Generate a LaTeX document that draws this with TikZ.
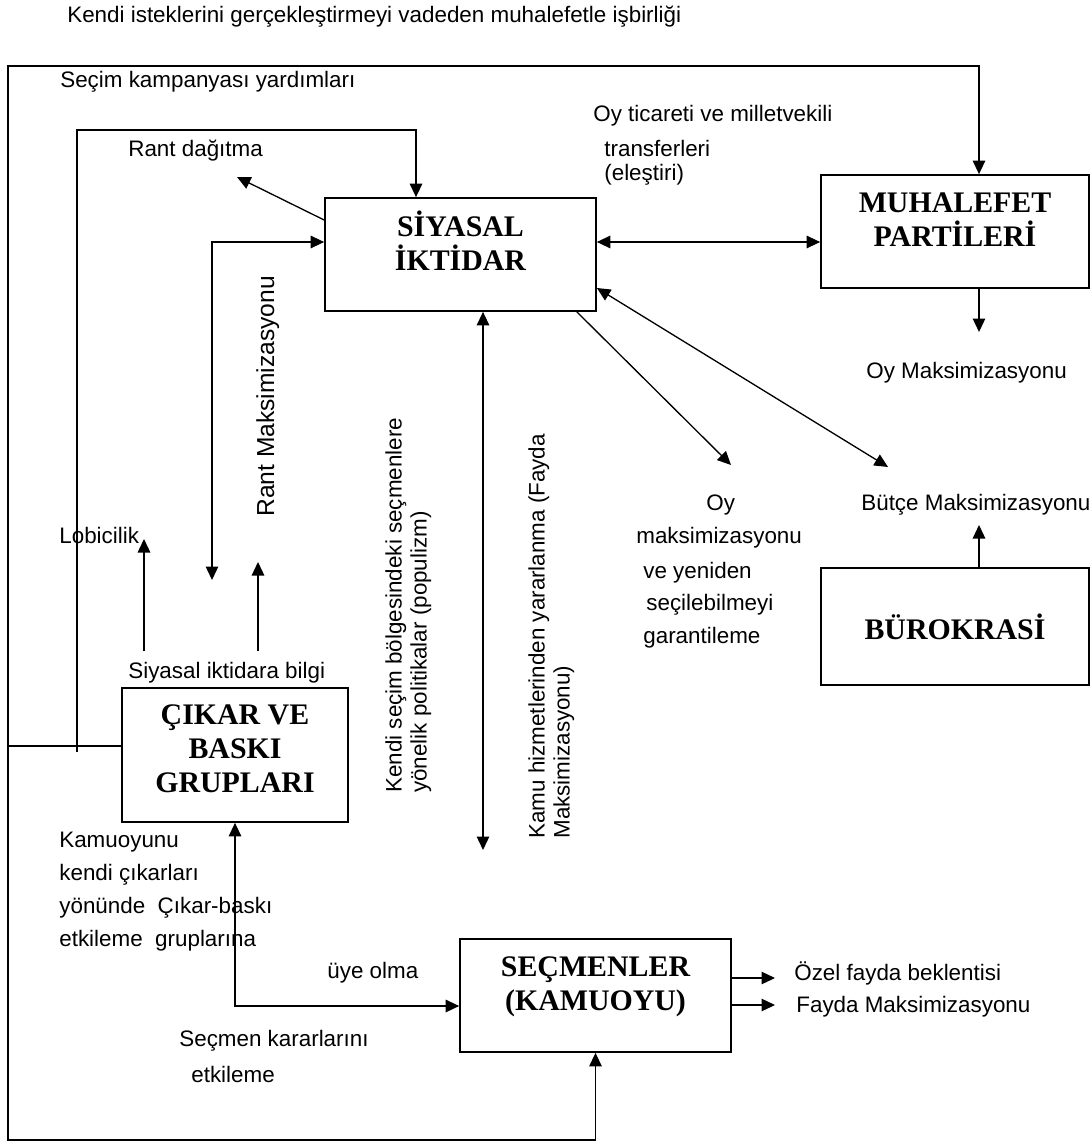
\documentclass[tikz,border=0pt]{standalone}
\usepackage{fontspec}
\setmainfont{Liberation Sans}
\newfontfamily\serifbox{Liberation Serif}
\usetikzlibrary{arrows.meta}

\tikzset{
  lbl/.style={inner sep=0, anchor=base west, font=\fontsize{12.75}{18.7}\selectfont},
  rot/.style={inner sep=0, anchor=north west, rotate=90, align=left, font=\fontsize{12.75}{14.2}\selectfont},
  box/.style={draw, line width=1pt, inner sep=0},
  boxtxt/.style={inner sep=0, align=center, font=\serifbox\bfseries\fontsize{17}{19.3}\selectfont},
  arr/.style={line width=.75pt, -{Triangle[length=.27cm,width=.25cm]}},
  dbl/.style={line width=.75pt, {Triangle[length=.27cm,width=.25cm]}-{Triangle[length=.27cm,width=.25cm]}}
}

\begin{document}
\begin{tikzpicture}[x=0.02cm, y=-0.02cm]
  \useasboundingbox (0,0) rectangle (1090,1142);
  \node[box, minimum width=5.42cm, minimum height=2.26cm] (siyasal) at (460.5,254.5) {};
  \node[boxtxt] (siyasal-t) at ([yshift=.27cm]siyasal.center) {SİYASAL\\İKTİDAR};
  \node[box, minimum width=5.36cm, minimum height=2.26cm] (muhalefet) at (955,231.5) {};
  \node[boxtxt] (muhalefet-t) at ([yshift=.23cm]muhalefet.center) {MUHALEFET\\PARTİLERİ};
  \node[box, minimum width=4.52cm, minimum height=2.68cm] (cikar) at (235,755) {};
  \node[boxtxt] (cikar-t) at ([yshift=.12cm]cikar.center) {ÇIKAR VE\\BASKI\\GRUPLARI};
  \node[box, minimum width=5.36cm, minimum height=2.34cm] (burokrasi) at (955,626.5) {};
  \node[boxtxt] (burokrasi-t) at (burokrasi.center) {BÜROKRASİ};
  \node[box, minimum width=5.42cm, minimum height=2.26cm] (secmen) at (595.5,995.5) {};
  \node[boxtxt] (secmen-t) at ([yshift=.17cm]secmen.center) {SEÇMENLER\\(KAMUOYU)};

  \node[lbl] (baslik) at (67,23) {Kendi isteklerini gerçekleştirmeyi vadeden muhalefetle işbirliği};
  \node[lbl] (kampanya) at (60,88) {Seçim kampanyası yardımları};
  \node[lbl] (rantdag) at (128,157) {Rant dağıtma};
  \node[lbl] (ticaret1) at (593,122) {Oy ticareti ve milletvekili};
  \node[lbl] (ticaret2) at (604,157) {transferleri};
  \node[lbl] (ticaret3) at (604,181) {(eleştiri)};
  \node[lbl] (oymaks) at (866,378) {Oy Maksimizasyonu};
  \node[lbl] (butce) at (861,510) {Bütçe Maksimizasyonu};
  \node[lbl] (lobi) at (59,543) {Lobicilik};
  \node[lbl] (bilgi) at (128,678) {Siyasal iktidara bilgi};
  \node[lbl, rotate=90, font=\fontsize{14}{16}\selectfont] (rantmaks) at (274,517) {Rant Maksimizasyonu};
  \node[rot] (populizm) at (385,793) {Kendi seçim bölgesindeki seçmenlere\\yönelik politikalar (populizm)};
  \node[rot] (kamu) at (528,839) {Kamu hizmetlerinden yararlanma (Fayda\\Maksimizasyonu)};
  \foreach \t/\x/\y [count=\i] in {Oy/706/510, maksimizasyonu/636/543, ve yeniden/643/578, seçilebilmeyi/646/610, garantileme/643/643}
    \node[lbl] (oy\i) at (\x,\y) {\t};
  \node[lbl, align=left] (kamuoyu) at (59,946) {Kamuoyunu\\kendi çıkarları\\yönünde\ \ Çıkar-baskı\\etkileme\ \ gruplarına};
  \node[lbl] (uye) at (327,978) {üye olma};
  \node[lbl] (karar1) at (179,1046) {Seçmen kararlarını};
  \node[lbl] (karar2) at (191,1082) {etkileme};
  \node[lbl] (ozel) at (794,980) {Özel fayda beklentisi};
  \node[lbl] (fayda) at (796,1012) {Fayda Maksimizasyonu};

  \coordinate (ftl) at (8,66);
  \coordinate (ftr) at (979,66);
  \coordinate (fbl) at (8,1140);
  \coordinate (loop) at (77,752);
  \coordinate (rt) at (416,130);
  \coordinate (rantd) at (237,177);
  \coordinate (rmb) at (212,580);
  \coordinate (lob) at (144,539);
  \coordinate (rmu) at (258,562);
  \coordinate (oymt) at (979,332);
  \coordinate (oyt) at (731,465);
  \coordinate (bmt) at (888,467);
  \coordinate (but) at (979,525);
  \coordinate (kamt) at (483,850);
  \coordinate (ozt) at (775,978);
  \coordinate (fyt) at (775,1005);

  \draw[arr] ([yshift=.18cm]cikar.west) -| (ftl) -- (ftr) -- (ftr |- muhalefet.north);
  \draw[arr] ([yshift=.18cm]cikar.west) -| (fbl) -| (secmen.south);
  \draw[arr] (loop) |- (rt) -- (rt |- siyasal.north);
  \draw[arr] ([yshift=.69cm]siyasal.west) -- (rantd);
  \draw[dbl] (rmb) |- ([yshift=.25cm]siyasal.west);
  \draw[arr, shorten <=.2cm] (lob |- bilgi.north) -- (lob);
  \draw[arr, shorten <=.2cm] (rmu |- bilgi.north) -- (rmu);
  \draw[dbl] ([yshift=.25cm]siyasal.east) -- ([yshift=.25cm]siyasal.east -| muhalefet.west);
  \draw[arr] (oymt |- muhalefet.south) -- (oymt);
  \draw[arr] ([xshift=-.4cm]siyasal.south east) -- (oyt);
  \draw[dbl] ([yshift=-.67cm]siyasal.east) -- (bmt);
  \draw[arr] (but |- burokrasi.north) -- (but);
  \draw[dbl] (kamt |- siyasal.south) -- (kamt);
  \draw[dbl] (cikar.south) |- ([yshift=-.21cm]secmen.west);
  \draw[arr] (ozt -| secmen.east) -- (ozt);
  \draw[arr] (fyt -| secmen.east) -- (fyt);
\end{tikzpicture}
\end{document}
